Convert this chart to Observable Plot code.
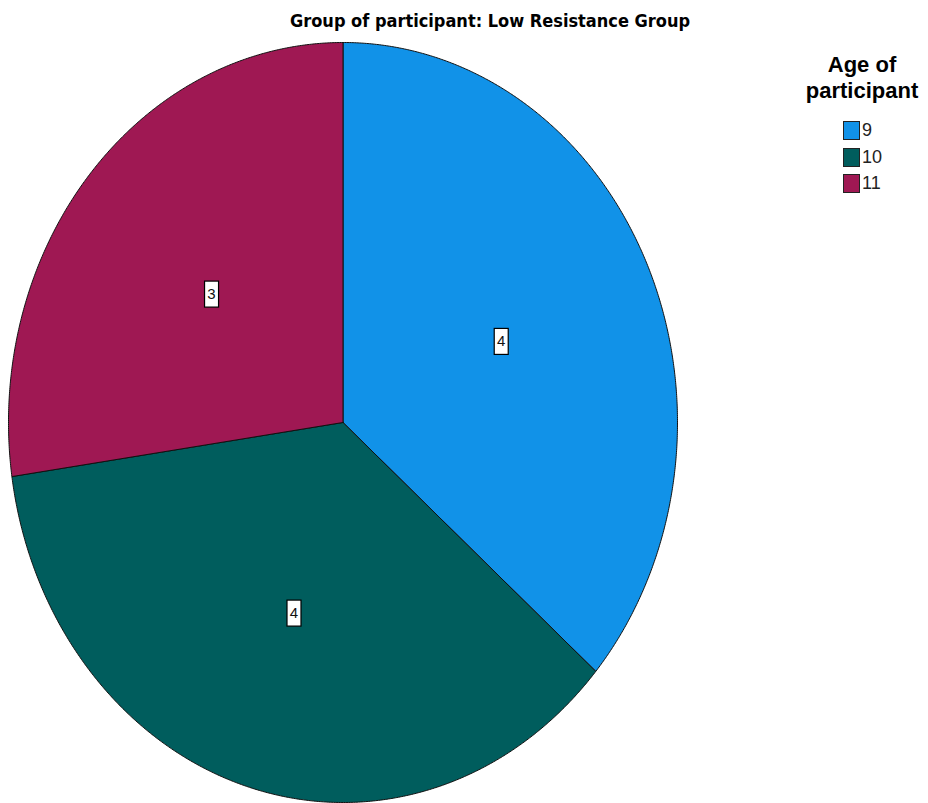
<!DOCTYPE html>
<html><head><meta charset="utf-8">
<script src="https://cdn.jsdelivr.net/npm/d3@7"></script>
<script src="https://cdn.jsdelivr.net/npm/@observablehq/plot@0.6"></script>
<style>
body{margin:0;background:#fff;}
#wrap{position:relative;width:928px;height:803px;overflow:hidden;background:#fff;}
#chart{position:absolute;left:0;top:0;}
#title{position:absolute;left:0;top:10px;width:980px;text-align:center;font:bold 18px "Liberation Sans Narrow","DejaVu Sans Condensed",sans-serif;line-height:22px;color:#000;white-space:nowrap;}
#legend{position:absolute;left:790px;top:52px;width:144px;}
#legtitle{text-align:center;font:bold 22px "Liberation Sans",Arial,sans-serif;line-height:26px;color:#000;}
.item{position:absolute;left:53px;height:20px;font:18px "Liberation Sans",Arial,sans-serif;color:#222;white-space:nowrap;}
.sw{display:inline-block;width:15px;height:17px;border:1px solid #222;vertical-align:top;margin-top:1px;margin-right:2px;}
</style>
</head><body>
<div id="wrap">
  <div id="chart"></div>
  <div id="title"></div>
  <div id="legend"><div id="legtitle"></div></div>
</div>
<script>
// ---- data ----
const chartTitle = "Group of participant: Low Resistance Group";
const legendTitle = ["Age of", "participant"];
const ages = ["9", "10", "11"];
const counts = [4, 4, 3];
const colors = ["#1192e8", "#005d5d", "#9f1853"];

// ---- build slice geometry with d3.pie (clockwise from 12 o'clock) ----
const pie = d3.pie().sort(null).value(d => d.count);
const arcs = pie(ages.map((a, i) => ({age: a, count: counts[i]})));
const pts = [];
const labels = [];
for (const a of arcs) {
  const age = a.data.age;
  pts.push({age, x: 0, y: 0});
  const n = Math.max(2, Math.ceil((a.endAngle - a.startAngle) / 0.005));
  for (let k = 0; k <= n; k++) {
    const t = a.startAngle + (a.endAngle - a.startAngle) * k / n;
    pts.push({age, x: Math.sin(t), y: Math.cos(t)});
  }
  pts.push({age, x: 0, y: 0});
  const m = (a.startAngle + a.endAngle) / 2;
  labels.push({age, value: a.data.count, x: 0.52 * Math.sin(m), y: 0.52 * Math.cos(m)});
}

const W = 928, H = 803;
const chart = Plot.plot({
  width: W, height: H,
  marginLeft: 8, marginRight: W - 677, marginTop: 42, marginBottom: 1,
  x: {domain: [-1, 1], axis: null},
  y: {domain: [-1, 1], axis: null},
  color: {domain: ages, range: colors},
  marks: [
    Plot.line(pts, {x: "x", y: "y", z: "age", fill: "age", stroke: "#111", strokeWidth: 1, curve: "linear"}),
    Plot.dot(labels, {x: "x", y: "y", symbol: "square", r: 0, fill: "none"}),
    Plot.text(labels, {x: "x", y: "y", text: d => String(d.value), fontSize: 15,
      fontFamily: "Liberation Sans, Arial, sans-serif", fill: "#111", dy: 1,
      render: (index, scales, values, dims, ctx, next) => {
        const g = next(index, scales, values, dims, ctx);
        const ns = "http://www.w3.org/2000/svg";
        for (const i of index) {
          const cx = values.x[i], cy = values.y[i];
          const r = document.createElementNS(ns, "rect");
          r.setAttribute("x", cx - 7); r.setAttribute("y", cy - 13);
          r.setAttribute("width", 14); r.setAttribute("height", 26);
          r.setAttribute("fill", "#fff"); r.setAttribute("stroke", "#000"); r.setAttribute("stroke-width", 1.2);
          g.insertBefore(r, g.firstChild);
        }
        return g;
      }})
  ]
});
document.getElementById("chart").appendChild(chart);
document.getElementById("title").textContent = chartTitle;
document.getElementById("legtitle").innerHTML = legendTitle.join("<br>");
const leg = document.getElementById("legend");
ages.forEach((a, i) => {
  const it = document.createElement("div");
  it.className = "item";
  it.style.top = (68 + i * 26.5) + "px";
  const sw = document.createElement("span");
  sw.className = "sw"; sw.style.background = colors[i];
  it.appendChild(sw);
  it.appendChild(document.createTextNode(a));
  leg.appendChild(it);
});
</script>
</body></html>
